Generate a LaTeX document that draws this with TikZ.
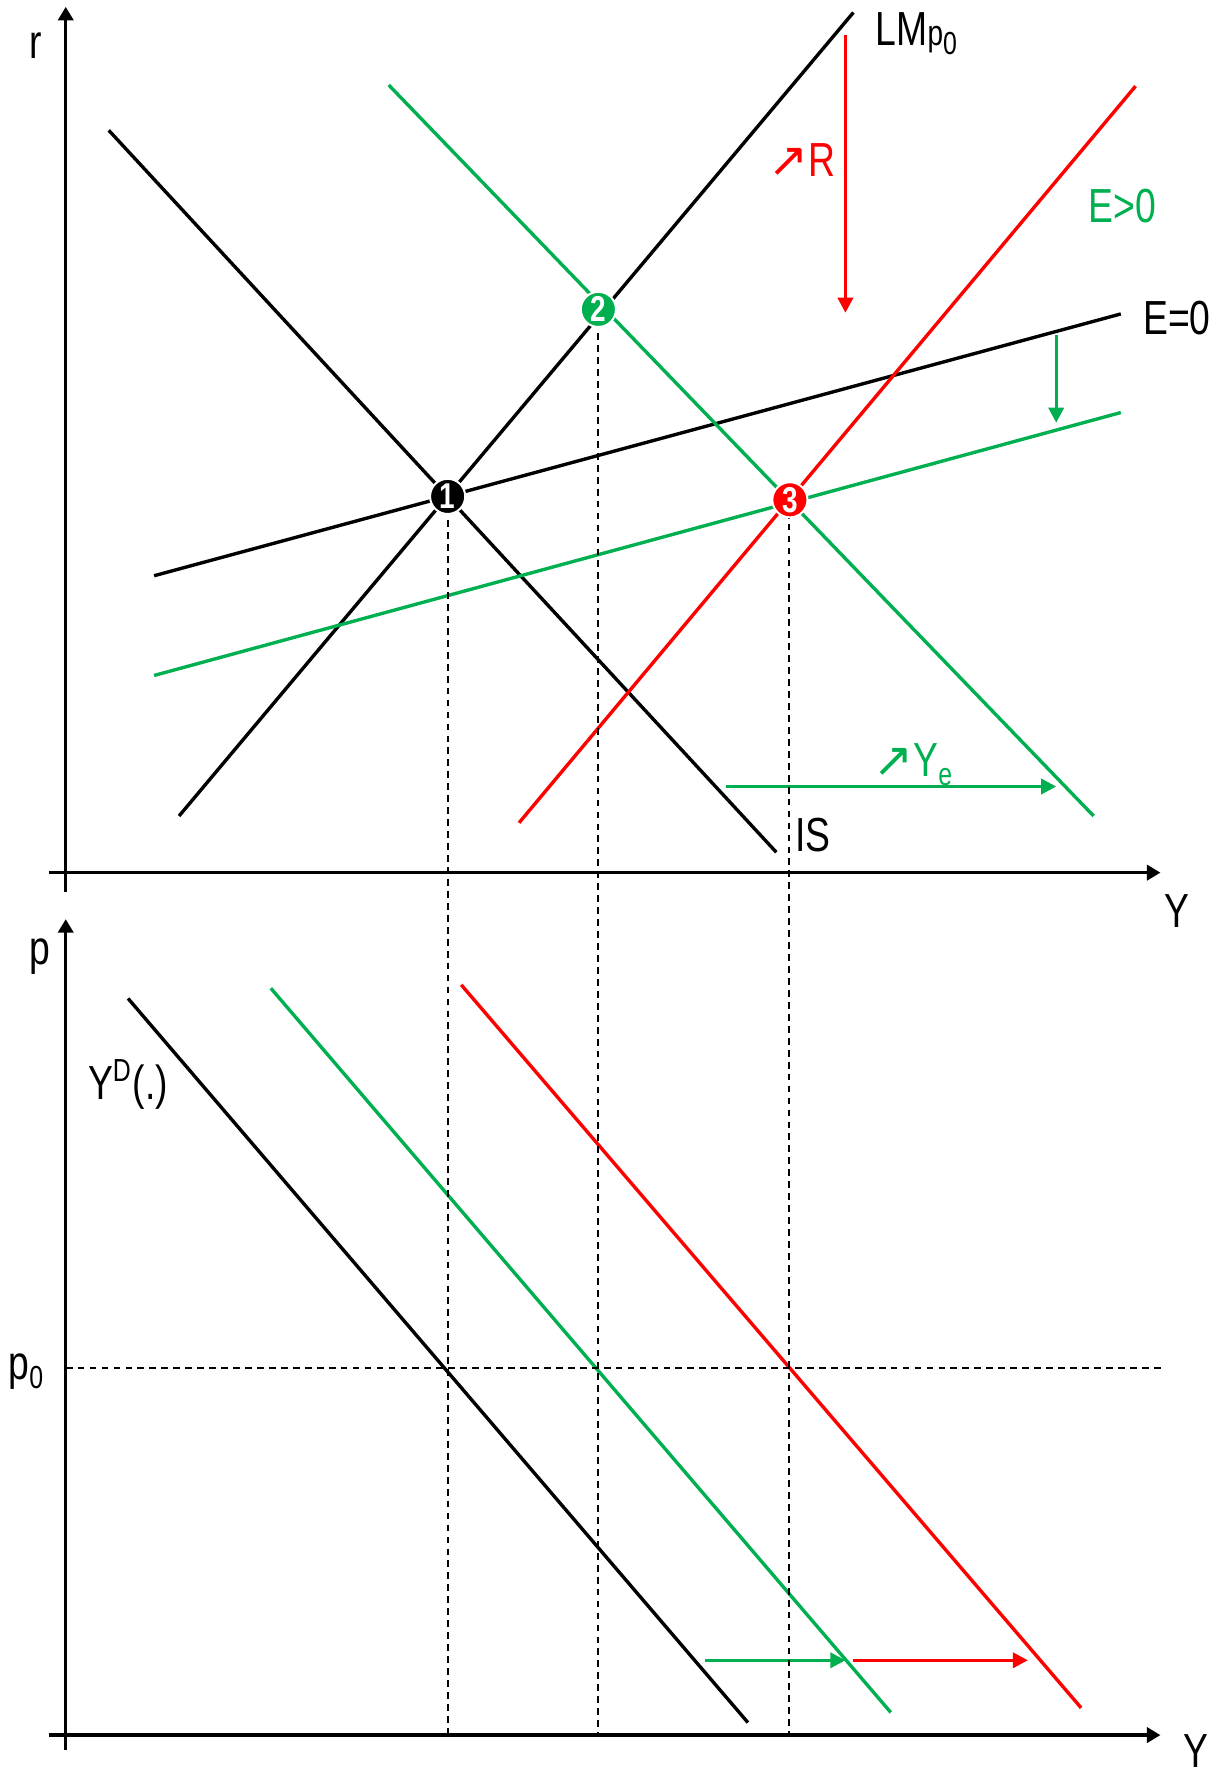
\documentclass[tikz,border=0pt]{standalone}
\usepackage{fontspec}
\setmainfont{Liberation Sans}[FakeStretch=0.78]
\newfontfamily\arrfont{DejaVu Sans}
\usepackage{xcolor}
\definecolor{shgreen}{RGB}{0,176,80}
\definecolor{shred}{RGB}{255,0,0}
\usetikzlibrary{positioning,arrows.meta}
\newcommand{\lowidx}[1]{\raisebox{-0.35ex}{\fontsize{8}{8}\selectfont #1}}
\newcommand{\upto}{{\arrfont\fontsize{12}{12}\selectfont ↗}}

\begin{document}
\begin{tikzpicture}[
  x=0.01cm, y=-0.01cm,
  font=\fontsize{12}{14}\selectfont,
  axis/.style={line width=0.85pt, -{Triangle[length=3.4pt, width=3.8pt]}},
  curve/.style={line width=0.85pt},
  guide/.style={line width=0.5pt, dash pattern=on 1.7pt off 1.3pt},
  shiftarrow/.style={line width=0.85pt, -{Triangle[length=3.8pt, width=3.8pt]}},
  eqpt/.style={circle, fill=#1, draw=white, line width=0.5pt, inner sep=0pt, minimum size=0.31cm,
    text=white, font=\fontsize{9}{9}\selectfont\bfseries},
  lbl/.style={inner sep=0pt, anchor=base west}]
  \useasboundingbox (0,0) rectangle (1077,1568);
  % axes
  \coordinate (rlow) at (58,787);   \coordinate (rtop) at (58,6);
  \coordinate (ylow) at (43,770);   \coordinate (ytop) at (1024,770);
  \coordinate (plow) at (58,1544);  \coordinate (ptop) at (58,811);
  \coordinate (yblow) at (43,1531); \coordinate (ybtop) at (1024,1531);
  \draw[axis] (rlow) -- (rtop);
  \draw[axis] (ylow) -- (ytop);
  \draw[axis] (plow) -- (ptop);
  \draw[axis] (yblow) -- (ybtop);
  \node[lbl] (rlab) at (25,52) {r};
  \node[lbl] (ylab) at (1027,818) {Y};
  \node[lbl] (plab) at (25,851) {p};
  \node[lbl] (yblab) at (1044,1560) {Y};
  % IS-LM
  \coordinate (is0a) at (96,115);   \coordinate (is0b) at (685,752);
  \coordinate (lm0a) at (158,720);  \coordinate (lm0b) at (753,11);
  \coordinate (e0a) at (136,508);   \coordinate (e0b) at (989,277);
  \coordinate (is1a) at (343,75);   \coordinate (is1b) at (965,720);
  \coordinate (e1a) at (136,596);   \coordinate (e1b) at (989,364);
  \coordinate (lm1a) at (458,726);  \coordinate (lm1b) at (1002,76);
  \draw[curve] (is0a) -- (is0b);
  \draw[curve] (lm0a) -- (lm0b);
  \draw[curve] (e0a) -- (e0b);
  \draw[curve, shgreen] (is1a) -- (is1b);
  \draw[curve, shgreen] (e1a) -- (e1b);
  \draw[curve, shred] (lm1a) -- (lm1b);
  \node[lbl] (lmlab) at (772,40) {LM{\fontsize{9}{9}\selectfont p}\lowidx{0}};
  \node[lbl] (islab) at (701,751) {IS};
  \node[lbl] (e0lab) at (1008,295) {E=0};
  \node[lbl, shgreen] (e1lab) at (960,196) {E>0};
  % shifts
  \coordinate (rsa) at (746,31);  \coordinate (rsb) at (746,276);
  \coordinate (esa) at (932,296); \coordinate (esb) at (932,373);
  \coordinate (ysa) at (641,694); \coordinate (ysb) at (932,694);
  \draw[shiftarrow, shred] (rsa) -- (rsb);
  \draw[shiftarrow, shgreen] (esa) -- (esb);
  \draw[shiftarrow, shgreen] (ysa) -- (ysb);
  \node[lbl, anchor=base east, shred] (rlab2) at (738,156) {\upto R};
  \node[lbl, shgreen] (yelab) at (770,685) {\upto Y\lowidx{e}};
  % AD
  \coordinate (yd0a) at (113,881); \coordinate (yd0b) at (660,1520);
  \coordinate (yd1a) at (239,872); \coordinate (yd1b) at (786,1511);
  \coordinate (yd2a) at (407,869); \coordinate (yd2b) at (954,1507);
  \draw[curve] (yd0a) -- (yd0b);
  \draw[curve, shgreen] (yd1a) -- (yd1b);
  \draw[curve, shred] (yd2a) -- (yd2b);
  \node[lbl] (ydlab) at (77,970) {Y\textsuperscript{D}(.)};
  \coordinate (gsa) at (622,1465); \coordinate (gsb) at (746,1465);
  \coordinate (dsa) at (753,1465); \coordinate (dsb) at (907,1465);
  \draw[shiftarrow, shgreen] (gsa) -- (gsb);
  \draw[shiftarrow, shred] (dsa) -- (dsb);
  % p0 and equilibria
  \coordinate (p0a) at (58,1207); \coordinate (p0b) at (1025,1207);
  \draw[guide] (p0a) -- (p0b);
  \node[lbl] (p0lab) at (7,1217) {p\lowidx{0}};
  \coordinate (b1) at (395,1531); \coordinate (b2) at (528,1531); \coordinate (b3) at (696,1531);
  \draw[guide] (395,438) -- (b1);
  \draw[guide] (528,273) -- (b2);
  \draw[guide] (696,441) -- (b3);
  \node[eqpt=black] (eq1) at (395,438) {1};
  \node[eqpt=shgreen] (eq2) at (528,273) {2};
  \node[eqpt=shred] (eq3) at (697,441) {3};
\end{tikzpicture}
\end{document}
